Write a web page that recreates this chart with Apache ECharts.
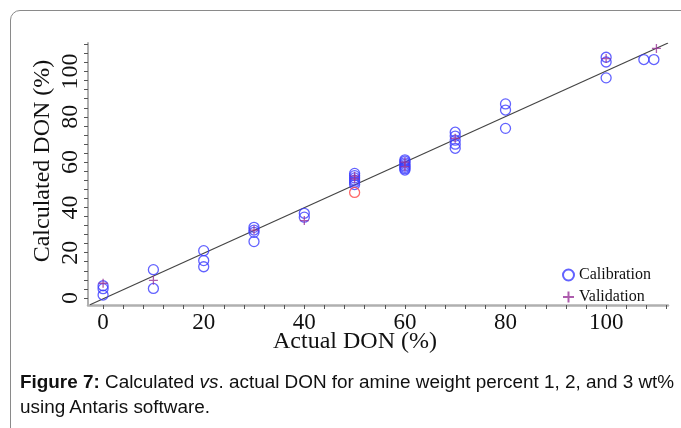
<!DOCTYPE html>
<html>
<head>
<meta charset="utf-8">
<script src="https://cdn.jsdelivr.net/npm/echarts@6/dist/echarts.min.js"></script>
<style>
  html, body { margin: 0; padding: 0; background: #fff; }
  #wrap { position: relative; width: 681px; height: 428px; overflow: hidden; background: #fff; }
  #frame { position: absolute; left: 10px; top: 10px; width: 720px; height: 460px;
           border: 1.5px solid #8a8a8a; border-radius: 10px; box-sizing: border-box; }
  #chart { position: absolute; left: 0; top: 0; width: 681px; height: 428px; }
  #caption { position: absolute; left: 20px; top: 369px; width: 660px;
             font-family: "Liberation Sans", Arial, sans-serif; font-size: 18.9px;
             line-height: 25px; color: #111; white-space: nowrap; }
</style>
</head>
<body>
<div id="wrap">
  <div id="frame"></div>
  <div id="chart"></div>
  <div id="caption"><b>Figure 7:</b> Calculated <i>vs</i>. actual DON for amine weight percent 1, 2, and 3 wt%<br>using Antaris software.</div>
</div>
<script>
// ---- data ----
const calX = [0, 0, 0, 10, 10, 20, 20, 20, 30, 30, 30, 30, 40, 40,
              50, 50, 50, 50, 50, 50,
              60, 60, 60, 60, 60, 60, 60, 60,
              70, 70, 70, 70, 70, 80, 80, 80, 100, 100, 100, 107.5, 109.5];
const calY = [5.4, 4.1, 1.3, 12.5, 4.2, 20.9, 16.5, 13.8, 31.2, 30.0, 29.0, 24.9, 37.4, 35.7,
              55.0, 54.0, 53.0, 52.0, 51.1, 50.1,
              61.0, 60.4, 59.7, 59.0, 58.3, 57.7, 57.1, 56.5,
              73.2, 71.5, 69.7, 67.9, 66.1, 85.7, 83.0, 74.9, 106.3, 104.2, 97.2, 105.3, 105.3];
const valX = [0, 10, 30, 40, 50, 50, 60, 60, 70, 100, 110];
const valY = [6.5, 7.8, 30.0, 34.2, 53.8, 52.6, 60.0, 58.0, 70.5, 105.7, 110.2];
const outX = [50];
const outY = [46.6];
const fitX = [-2.6, 112.3];
const fitY = [-3.0, 112.6];
const xTickLabels = [0, 20, 40, 60, 80, 100];
const yTickLabels = [0, 20, 40, 60, 80, 100];
const seriesNames = ['Calibration', 'Validation'];
const xTitle = 'Actual DON (%)';
const yTitle = 'Calculated DON (%)';

const zip = (a, b) => a.map((v, i) => [v, b[i]]);
const minorTicks = [];
for (let v = 0; v <= 112; v += 4) minorTicks.push(v);

const serif = '"Liberation Serif", "Times New Roman", serif';
const chart = echarts.init(document.getElementById('chart'), null, { renderer: 'canvas' });
chart.setOption({
  animation: false,
  backgroundColor: 'transparent',
  grid: { left: 88, right: 13, top: 43, bottom: 123, containLabel: false },
  xAxis: {
    type: 'value', min: -3, max: 112.3,
    splitLine: { show: false },
    axisLine: { show: true, onZero: false, lineStyle: { color: '#b0b0b0', width: 2.5 } },
    axisTick: { show: true, customValues: minorTicks, length: 4, inside: false,
                lineStyle: { color: '#555', width: 1 } },
    axisLabel: { customValues: xTickLabels, margin: 6, color: '#111',
                 fontFamily: serif, fontSize: 23 }
  },
  yAxis: {
    type: 'value', min: -3.1, max: 112.6,
    splitLine: { show: false },
    axisLine: { show: true, onZero: false, lineStyle: { color: '#b0b0b0', width: 2 } },
    axisTick: { show: true, customValues: minorTicks, length: 4, inside: false,
                lineStyle: { color: '#555', width: 1 } },
    axisLabel: { customValues: yTickLabels, margin: 5, rotate: 90, color: '#111',
                 fontFamily: serif, fontSize: 24 }
  },
  legend: {
    data: seriesNames, orient: 'vertical', left: 557, top: 262,
    itemWidth: 11, itemHeight: 11, itemGap: 6,
    textStyle: { fontFamily: serif, fontSize: 16, color: '#111' }
  },
  graphic: [
    { type: 'text', x: 355, y: 342,
      style: { text: xTitle, align: 'center', verticalAlign: 'middle',
               font: '24px ' + serif, fill: '#111' } },
    { type: 'text', x: 43, y: 161, rotation: Math.PI / 2,
      style: { text: yTitle, align: 'center', verticalAlign: 'middle',
               font: '24px ' + serif, fill: '#111' } }
  ],
  series: [
    { name: 'fit', type: 'line', data: zip(fitX, fitY), symbol: 'none', silent: true,
      lineStyle: { color: '#444', width: 1.2 }, z: 1 },
    { name: 'Calibration', type: 'scatter', data: zip(calX, calY), symbol: 'circle',
      symbolSize: 10, itemStyle: { color: 'rgba(0,0,0,0)', borderColor: '#3b3bff', borderWidth: 1.3 }, z: 3 },
    { name: 'Validation', type: 'scatter', data: zip(valX, valY),
      symbol: 'path://M5,0 L5,10 M0,5 L10,5', symbolSize: 9,
      itemStyle: { color: 'rgba(0,0,0,0)', borderColor: '#993399', borderWidth: 1.3 }, z: 4 },
    { name: 'outlier', type: 'scatter', data: zip(outX, outY), symbol: 'circle',
      symbolSize: 10, itemStyle: { color: 'rgba(0,0,0,0)', borderColor: '#ff4444', borderWidth: 1.3 }, z: 3 }
  ]
});
</script>
</body>
</html>
